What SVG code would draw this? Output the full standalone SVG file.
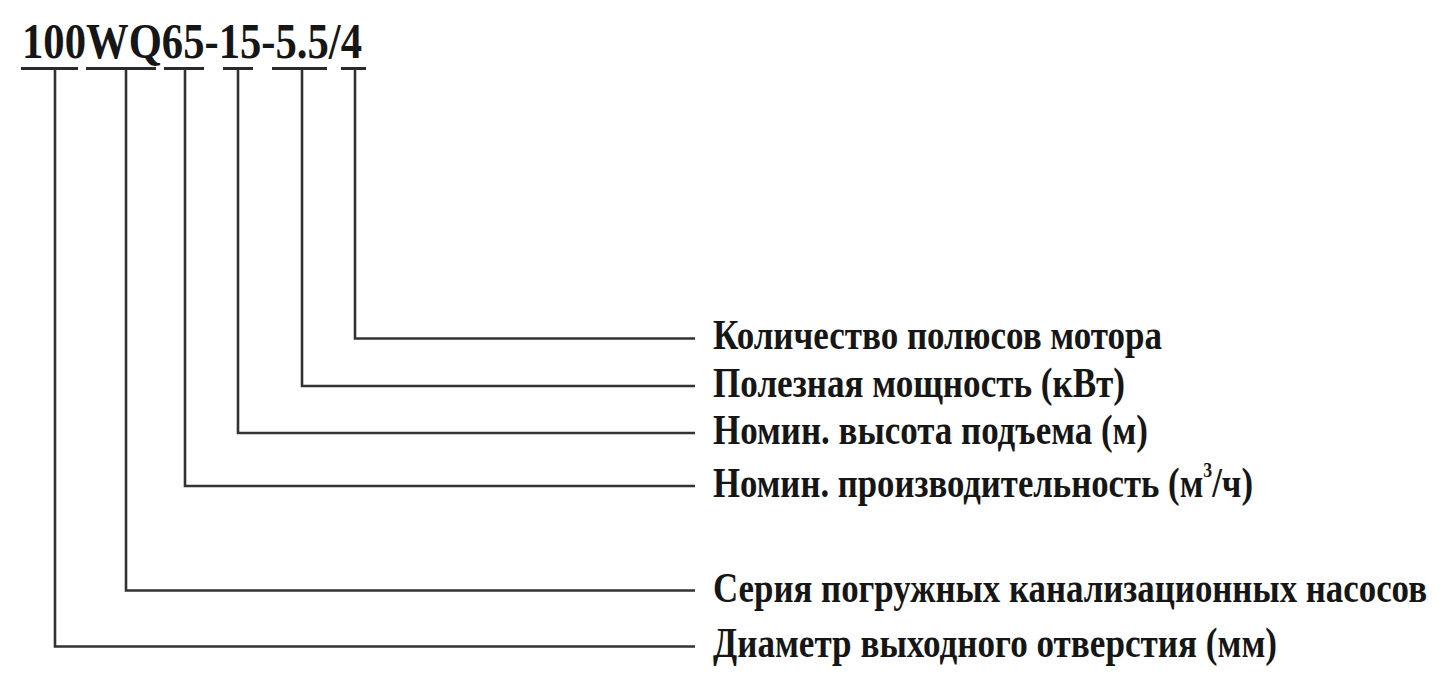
<svg xmlns="http://www.w3.org/2000/svg" width="1445" height="688" viewBox="0 0 1445 688">
<style>
.t{font-family:"Liberation Serif","Times New Roman",serif;font-weight:bold;fill:#161616}
.lbl{font-size:43px}
.code{font-size:51px}
.ul{stroke:#2a2a2a;stroke-width:3;fill:none}
.c{stroke:#333;stroke-width:2.6;fill:none;stroke-linejoin:miter}
</style>
<rect width="1445" height="688" fill="#fff"/>
<g id="code">
<text class="t code" x="22" y="58" textLength="340" lengthAdjust="spacingAndGlyphs">100WQ65-15-5.5/4</text>
<path class="ul" d="M21 68.5H78M86 68.5H156M164 68.5H204M223 68.5H253M272 68.5H327M341 68.5H366"/>
</g>
<g id="connectors">
<path class="c" d="M355 69V338.5H695"/>
<path class="c" d="M302 69V386H695"/>
<path class="c" d="M238 69V433H695"/>
<path class="c" d="M185 69V486H695"/>
<path class="c" d="M126 69V590.5H695"/>
<path class="c" d="M55 69V646.5H695"/>
</g>
<g id="n-poles"><text class="t lbl" x="713" y="349" textLength="449" lengthAdjust="spacingAndGlyphs">Количество полюсов мотора</text></g>
<g id="n-power"><text class="t lbl" x="713" y="397" textLength="412" lengthAdjust="spacingAndGlyphs">Полезная мощность (кВт)</text></g>
<g id="n-head"><text class="t lbl" x="713" y="444" textLength="435" lengthAdjust="spacingAndGlyphs">Номин. высота подъема (м)</text></g>
<g id="n-flow"><text class="t lbl" x="713" y="497" textLength="540" lengthAdjust="spacingAndGlyphs">Номин. производительность (м<tspan font-size="22" dy="-20">3</tspan><tspan dy="20">/ч)</tspan></text></g>
<g id="n-series"><text class="t lbl" x="713" y="602" textLength="714" lengthAdjust="spacingAndGlyphs">Серия погружных канализационных насосов</text></g>
<g id="n-diam"><text class="t lbl" x="713" y="657" textLength="564" lengthAdjust="spacingAndGlyphs">Диаметр выходного отверстия (мм)</text></g>
</svg>
